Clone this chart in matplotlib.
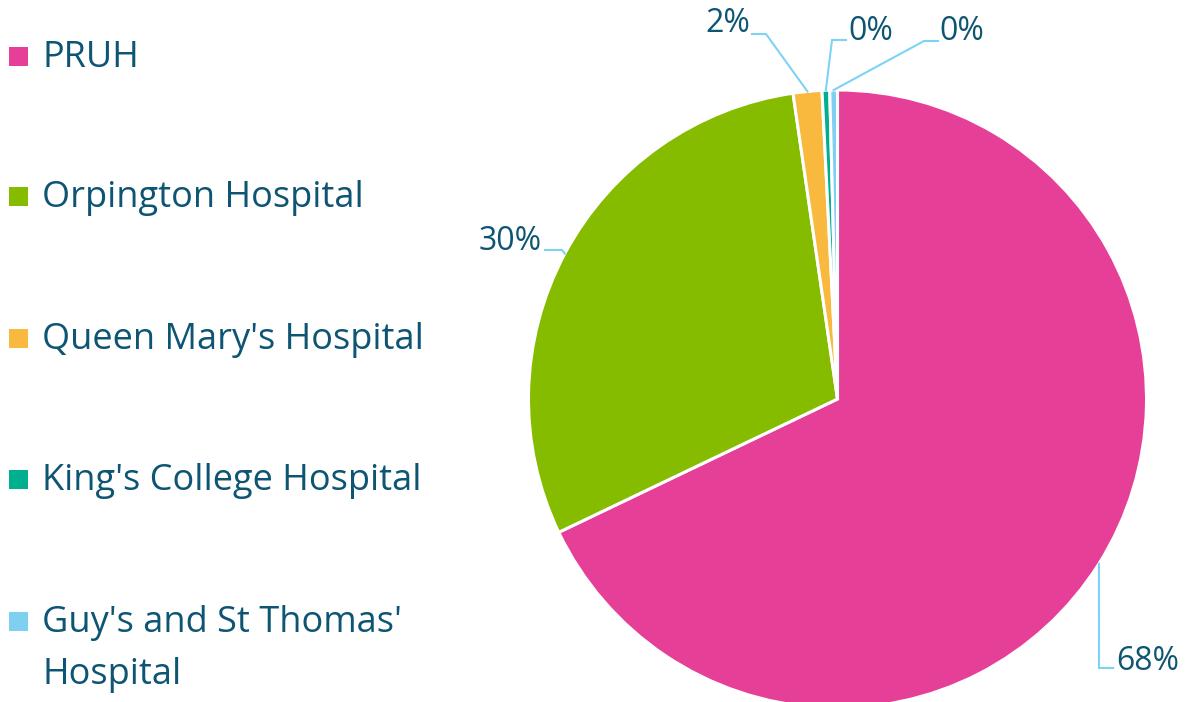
import numpy as np
import matplotlib
matplotlib.use("Agg")
import matplotlib.pyplot as plt
from matplotlib.patches import Rectangle

# --- data ---
hospitals = ["PRUH", "Orpington Hospital", "Queen Mary's Hospital",
             "King's College Hospital", "Guy's and St Thomas'\nHospital"]
shares = [67.9, 29.8, 1.5, 0.4, 0.4]
pct_labels = ["68%", "30%", "2%", "0%", "0%"]
colors = ["#E63F97", "#86BC00", "#F8B93E", "#00AF8F", "#7ECFF0"]

TEXT = "#0E5573"
LINE = "#7ED3F5"
W, H = 1198, 702
CX, CY, R = 837.5, 399.0, 309.0   # pie centre / radius in pixels

plt.rcParams["font.family"] = ["Open Sans", "DejaVu Sans"]

fig = plt.figure(figsize=(W / 100, H / 100), dpi=100)
ax = fig.add_axes([0, 0, 1, 1])


def px(x, y):
    # pixel -> pie data coords
    return (x - CX) / R, (CY - y) / R


wedges, _ = ax.pie(shares, colors=colors, startangle=90, counterclock=False,
                   radius=1, center=(0, 0), frame=True,
                   wedgeprops=dict(edgecolor="white", linewidth=2.2))
ax.set_xlim(-CX / R, (W - CX) / R)
ax.set_ylim(-(H - CY) / R, CY / R)
ax.axis("off")

# label layout: elbow point, end of line, text position, alignment
label_layout = [
    ((1099, 668), (1113, 668), (1116, 661), "left"),
    ((562, 250), (545, 250), (542, 241), "right"),
    ((766, 34), (752, 34), (750, 23), "right"),
    ((832, 40), (846, 40), (848, 32), "left"),
    ((924, 41), (938, 41), (939, 32), "left"),
]

cum = np.cumsum([0] + shares)
total = cum[-1]
for i, (elbow, end, tpos, ha) in enumerate(label_layout):
    mid = (cum[i] + cum[i + 1]) / 2 / total * 2 * np.pi
    sx, sy = np.sin(mid), np.cos(mid)
    ex, ey = px(*elbow)
    nx, ny = px(*end)
    ax.plot([sx, ex, nx], [sy, ey, ny], color=LINE, lw=1.5,
            solid_joinstyle="miter", zorder=1)
    tx, ty = px(*tpos)
    ax.text(tx, ty, pct_labels[i], ha=ha, va="center", fontsize=23,
            color=TEXT)

# legend on the left
leg = fig.add_axes([0, 0, 1, 1])
leg.set_xlim(0, W)
leg.set_ylim(H, 0)
leg.axis("off")
leg.patch.set_alpha(0)
rows = [56, 196, 338, 479, 621]
for name, c, y in zip(hospitals, colors, rows):
    leg.add_patch(Rectangle((9, y - 9), 19, 19, color=c, lw=0))
    for k, line in enumerate(name.split("\n")):
        leg.text(42, y + 2 + 52 * k, line, ha="left", va="center",
                 fontsize=26, color=TEXT)

fig.savefig("out.png", dpi=100)
